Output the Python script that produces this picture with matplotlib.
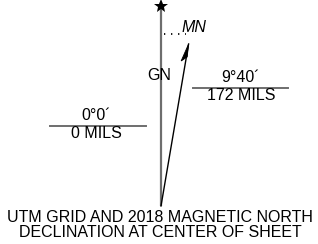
import numpy as np
import matplotlib
matplotlib.use("Agg")
import matplotlib.pyplot as plt

# declination data
grid_label = "GN"
mag_label = "MN"
grid_angle = "0°0´"
grid_mils = "0 MILS"
mag_angle = "9°40´"
mag_mils = "172 MILS"
declination_deg = 9 + 40 / 60.0
caption = ["UTM GRID AND 2018 MAGNETIC NORTH", "DECLINATION AT CENTER OF SHEET"]

plt.rcParams['font.family'] = ['Liberation Sans', 'DejaVu Sans']

fig = plt.figure(figsize=(3.18, 2.44), dpi=100)
ax = fig.add_axes([0, 0, 1, 1])
ax.set_xlim(0, 318)
ax.set_ylim(244, 0)
ax.axis('off')

fs = 11.5
origin = np.array([161.0, 206.0])

# grid north line with star
ax.plot([origin[0], origin[0]], [origin[1], 9], color='#6e6e6e', lw=1.6, solid_capstyle='butt')
ax.plot(origin[0], 6, marker='*', color='black', markersize=10, markeredgewidth=0)
ax.text(origin[0] - 1.5, 75, grid_label, fontsize=fs, ha='center', va='center')

# magnetic north line
th = np.radians(declination_deg)
u = np.array([np.sin(th), -np.cos(th)])  # pointing up on screen
length = 162 / np.cos(th)
tip = origin + u * length
ax.plot([origin[0], tip[0]], [origin[1], tip[1]], color='black', lw=1.0)
n = np.array([-np.cos(th), -np.sin(th)])  # left of shaft
barb = tip - 18 * u + 4.5 * n
inner = tip - 13 * u + 0.8 * (-n)
ax.fill([tip[0], barb[0], inner[0]], [tip[1], barb[1], inner[1]], color='black', lw=0.6)
ax.plot([163.5, 186], [33.5, 33.5], color='black', lw=1.3, linestyle=(0, (0.7, 3.2)))
ax.text(194, 27.5, mag_label, fontsize=fs, style='italic', ha='center', va='center')

# angle labels
ax.plot([50, 146], [126, 126], color='#6e6e6e', lw=1.4)
ax.text(96, 116, grid_angle, fontsize=fs, ha='center', va='center')
ax.text(96, 134, grid_mils, fontsize=fs, ha='center', va='center')

ax.plot([193, 288], [87.5, 87.5], color='#6e6e6e', lw=1.4)
ax.text(241, 77.5, mag_angle, fontsize=fs, ha='center', va='center')
ax.text(241, 95.5, mag_mils, fontsize=fs, ha='center', va='center')

ax.text(160, 217.5, caption[0], fontsize=fs, ha='center', va='center')
ax.text(160, 232.5, caption[1], fontsize=fs, ha='center', va='center')

fig.savefig("out.png", dpi=100)
